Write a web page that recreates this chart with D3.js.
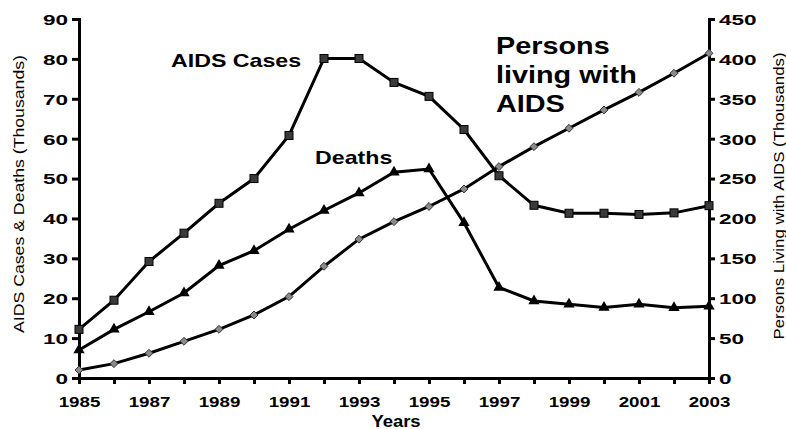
<!DOCTYPE html>
<html>
<head>
<meta charset="utf-8">
<script src="https://cdn.jsdelivr.net/npm/d3@7"></script>
<style>
  body { margin: 0; background: #fff; }
  text { font-family: Arial, "Liberation Sans", sans-serif; }
</style>
</head>
<body>
<div id="viz"></div>
<script>
// data (thousands)
const years = [1985, 1986, 1987, 1988, 1989, 1990, 1991, 1992, 1993, 1994,
               1995, 1996, 1997, 1998, 1999, 2000, 2001, 2002, 2003];
const aidsCases = [12.2, 19.5, 29.2, 36.3, 43.8, 50.0, 60.8, 80.1, 80.1, 74.1,
                   70.6, 62.3, 50.7, 43.3, 41.3, 41.3, 41.0, 41.4, 43.2];
const deaths = [7.0, 12.2, 16.6, 21.3, 28.2, 31.9, 37.3, 42.0, 46.4, 51.6,
                52.4, 38.9, 22.7, 19.3, 18.5, 17.7, 18.5, 17.6, 18.0];
const living = [10, 18, 31, 46, 61, 79, 102, 140, 174, 196,
                215, 237, 265, 290, 313, 336, 358, 382, 407];
const leftTicks = [0, 10, 20, 30, 40, 50, 60, 70, 80, 90];
const rightTicks = [0, 50, 100, 150, 200, 250, 300, 350, 400, 450];

const svg = d3.select("#viz")
  .append("svg")
  .attr("width", 786)
  .attr("height", 429);

const x = d3.scaleLinear().domain([1985, 2003]).range([79, 709]);
const yL = d3.scaleLinear().domain([0, 90]).range([378, 19]);
const yR = d3.scaleLinear().domain([0, 450]).range([378, 19]);

// the original picture is stretched sideways, so text gets a fixed length
function stretch(sel, k) {
  sel.each(function() {
    const len = this.getComputedTextLength();
    d3.select(this).attr("textLength", len * k).attr("lengthAdjust", "spacingAndGlyphs");
  });
}

// axes
const xAxis = svg.append("g")
  .attr("transform", "translate(0,378)")
  .call(d3.axisBottom(x).tickValues(years).tickSize(6).tickPadding(12)
    .tickFormat(d => (d % 2 === 1 ? d : "")));
const leftAxis = svg.append("g")
  .attr("transform", "translate(79,0)")
  .call(d3.axisLeft(yL).tickValues(leftTicks).tickSize(7).tickPadding(4));
const rightAxis = svg.append("g")
  .attr("transform", "translate(709,0)")
  .call(d3.axisRight(yR).tickValues(rightTicks).tickSize(6).tickPadding(4));

[xAxis, leftAxis, rightAxis].forEach(g => {
  g.select(".domain").attr("stroke", "#000").attr("stroke-width", 3);
  g.selectAll(".tick line").attr("stroke", "#000").attr("stroke-width", 3);
  g.selectAll(".tick text")
    .attr("fill", "#000")
    .attr("font-weight", "bold");
});
xAxis.selectAll(".tick text").attr("font-size", 15).call(stretch, 1.25);
leftAxis.selectAll(".tick text").attr("font-size", 15).attr("dy", "0.36em").call(stretch, 1.5);
rightAxis.selectAll(".tick text").attr("font-size", 15).attr("dy", "0.36em").call(stretch, 1.5);

// lines
const lineL = d3.line().x((d, i) => x(years[i])).y(d => yL(d));
const lineR = d3.line().x((d, i) => x(years[i])).y(d => yR(d));

svg.append("path").datum(living).attr("d", lineR)
  .attr("fill", "none").attr("stroke", "#000").attr("stroke-width", 3);
svg.append("path").datum(deaths).attr("d", lineL)
  .attr("fill", "none").attr("stroke", "#000").attr("stroke-width", 3);
svg.append("path").datum(aidsCases).attr("d", lineL)
  .attr("fill", "none").attr("stroke", "#000").attr("stroke-width", 3);

// markers
svg.selectAll("path.diamond")
  .data(living)
  .enter()
  .append("path")
  .attr("class", "diamond")
  .attr("d", d3.symbol().type(d3.symbolDiamond2).size(40))
  .attr("transform", (d, i) => `translate(${x(years[i])},${yR(d)})`)
  .attr("fill", "#8a8a8a")
  .attr("stroke", "#333")
  .attr("stroke-width", 1);

svg.selectAll("path.triangle")
  .data(deaths)
  .enter()
  .append("path")
  .attr("class", "triangle")
  .attr("d", d3.symbol().type(d3.symbolTriangle).size(55))
  .attr("transform", (d, i) => `translate(${x(years[i])},${yL(d)})`)
  .attr("fill", "#000");

svg.selectAll("rect.square")
  .data(aidsCases)
  .enter()
  .append("rect")
  .attr("class", "square")
  .attr("x", (d, i) => x(years[i]) - 4)
  .attr("y", d => yL(d) - 4)
  .attr("width", 8)
  .attr("height", 8)
  .attr("fill", "#3a3a3a")
  .attr("stroke", "#000")
  .attr("stroke-width", 1);

// series labels
svg.append("text").attr("x", 171).attr("y", 67)
  .attr("font-size", 19).attr("font-weight", "bold")
  .text("AIDS Cases").call(stretch, 1.22);
svg.append("text").attr("x", 315).attr("y", 164)
  .attr("font-size", 19).attr("font-weight", "bold")
  .text("Deaths").call(stretch, 1.22);

const personLines = ["Persons", "living with", "AIDS"];
svg.selectAll("text.persons")
  .data(personLines)
  .enter()
  .append("text")
  .attr("class", "persons")
  .attr("x", 496)
  .attr("y", (d, i) => 54 + i * 29)
  .attr("font-size", 24)
  .attr("font-weight", "bold")
  .text(d => d)
  .call(stretch, 1.2);

// axis titles
svg.append("text")
  .attr("transform", "translate(24,194) rotate(-90)")
  .attr("text-anchor", "middle")
  .attr("font-size", 14)
  .text("AIDS Cases & Deaths (Thousands)")
  .attr("textLength", 278).attr("lengthAdjust", "spacingAndGlyphs");
svg.append("text")
  .attr("transform", "translate(784,196) rotate(-90)")
  .attr("text-anchor", "middle")
  .attr("font-size", 14)
  .text("Persons Living with AIDS (Thousands)")
  .attr("textLength", 287).attr("lengthAdjust", "spacingAndGlyphs");
svg.append("text")
  .attr("x", 396).attr("y", 427)
  .attr("text-anchor", "middle")
  .attr("font-size", 16).attr("font-weight", "bold")
  .text("Years").call(stretch, 1.15);
</script>
</body>
</html>
